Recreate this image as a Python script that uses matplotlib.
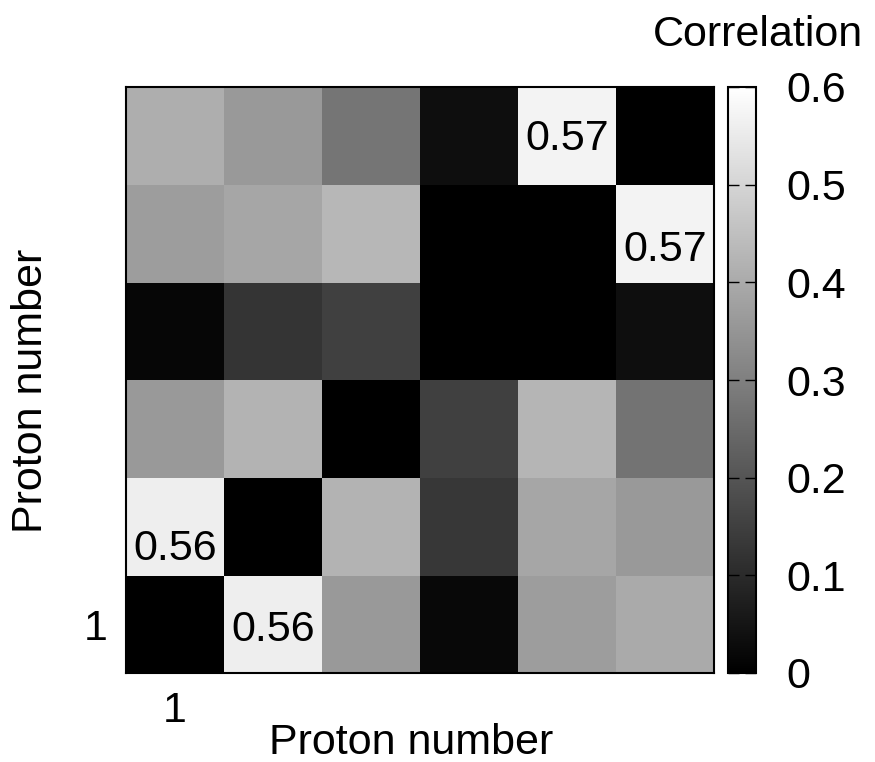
import numpy as np
import matplotlib
matplotlib.use("Agg")
import matplotlib.pyplot as plt

plt.rcParams['font.family'] = ['Liberation Sans', 'DejaVu Sans']

# correlation matrix, row 0 = proton 1 (bottom row of the picture)
row1 = [0.00, 0.56, 0.36, 0.02, 0.37, 0.40]
row2 = [0.56, 0.00, 0.42, 0.13, 0.39, 0.36]
row3 = [0.36, 0.42, 0.00, 0.15, 0.425, 0.27]
row4 = [0.016, 0.125, 0.15, 0.00, 0.00, 0.033]
row5 = [0.37, 0.39, 0.43, 0.00, 0.00, 0.57]
row6 = [0.41, 0.36, 0.275, 0.033, 0.57, 0.00]
corr = np.array([row1, row2, row3, row4, row5, row6])

# annotated cells: (column, row, label)
ann_cols = [1, 0, 5, 4]
ann_rows = [0, 1, 4, 5]
ann_text = ["0.56", "0.56", "0.57", "0.57"]
ann_dy = [-0.06, -0.23, -0.17, -0.03]   # small vertical shifts seen in the original

cbar_ticks = [0, 0.1, 0.2, 0.3, 0.4, 0.5, 0.6]
cbar_labels = ["0", "0.1", "0.2", "0.3", "0.4", "0.5", "0.6"]

fs = 31

fig = plt.figure(figsize=(8.75, 7.62), dpi=100)
ax = fig.add_axes([126 / 875, 1 - 673 / 762, 588 / 875, 586 / 762])
cax = fig.add_axes([728 / 875, 1 - 673 / 762, 28 / 875, 586 / 762])

im = ax.imshow(corr, cmap='gray', vmin=0, vmax=0.6, origin='lower',
               aspect='auto', interpolation='nearest')

for c, r, t, dy in zip(ann_cols, ann_rows, ann_text, ann_dy):
    ax.text(c, r + dy, t, ha='center', va='center', fontsize=fs, color='black')

ax.set_xticks([0])
ax.set_xticklabels(["1"])
ax.set_yticks([0])
ax.set_yticklabels(["1"])
ax.tick_params(axis='x', length=0, labelsize=fs, pad=13)
ax.tick_params(axis='y', length=0, labelsize=fs, pad=13)
ax.set_xlabel("Proton number", fontsize=fs)
ax.set_ylabel("Proton number", fontsize=fs, labelpad=24)
ax.xaxis.set_label_coords(0.485, -0.085, transform=ax.transAxes)
ax.xaxis.label.set_va('top')
ax.yaxis.label.set_y(0.481)
for sp in ax.spines.values():
    sp.set_linewidth(1.5)

cb = fig.colorbar(im, cax=cax)
cb.set_ticks(cbar_ticks)
cb.set_ticklabels(cbar_labels)
cax.tick_params(direction='in', left=True, right=True, length=8, width=1,
                labelsize=fs, pad=22)
cb.outline.set_linewidth(1.5)

fig.text(863 / 875, 1 - 35 / 762, "Correlation", ha='right', va='center', fontsize=fs)

fig.savefig("out.png", dpi=100)
